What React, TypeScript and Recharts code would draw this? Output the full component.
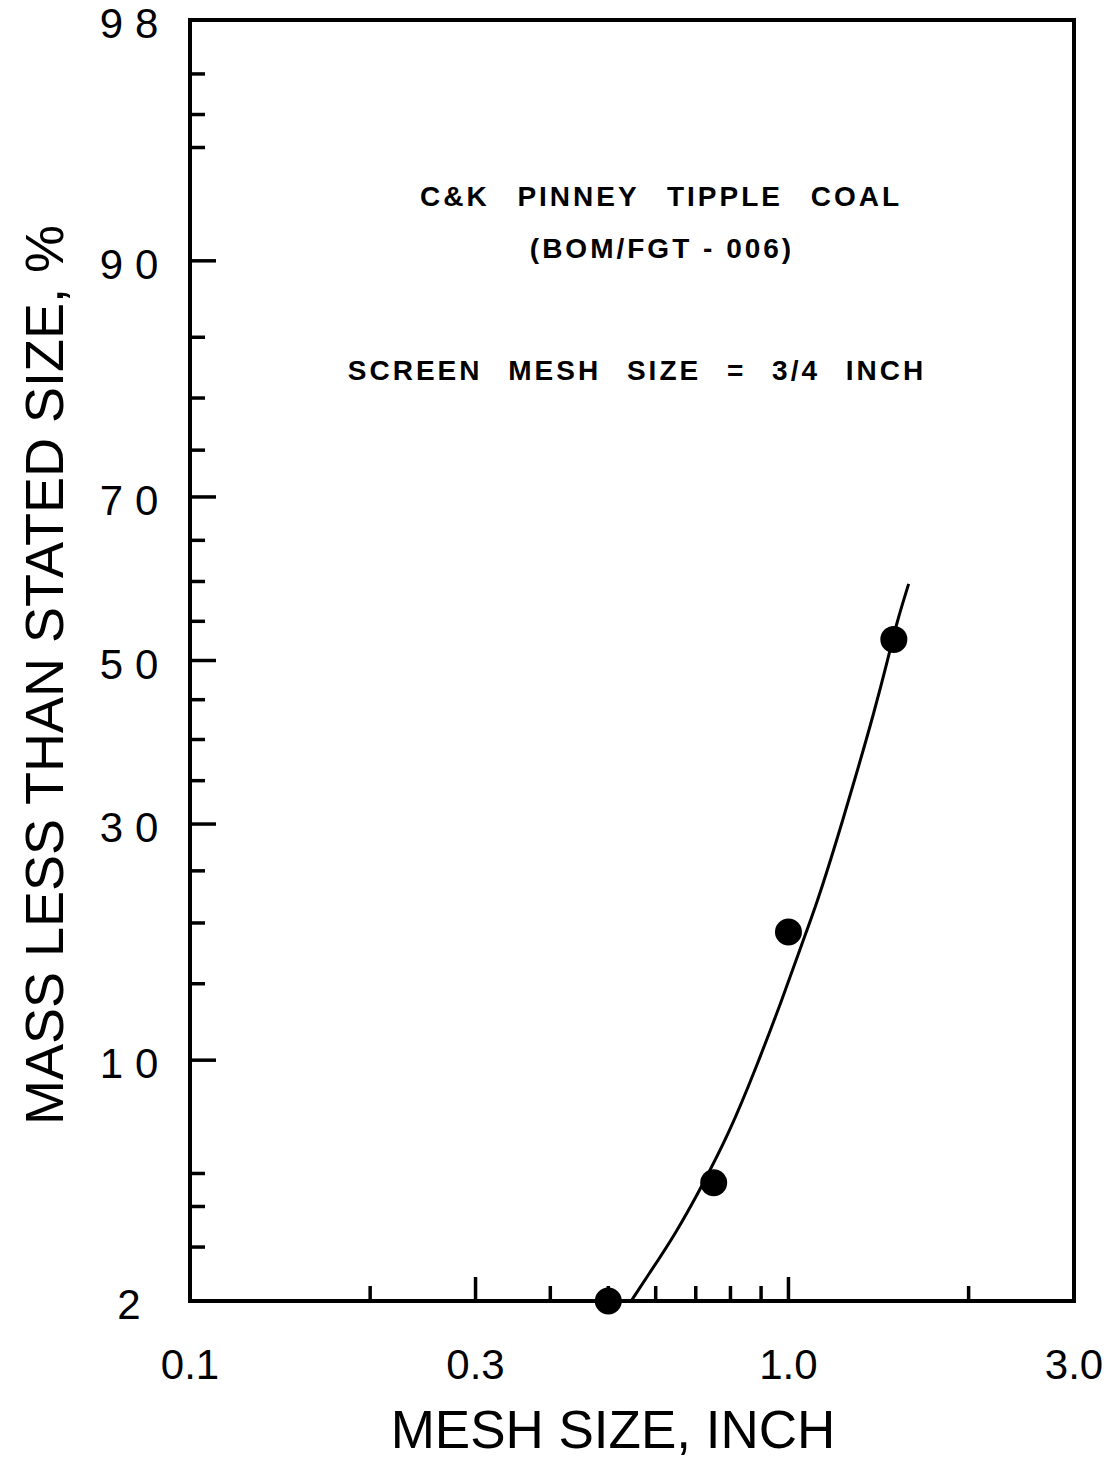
import { ComposedChart, Line, Scatter, XAxis, YAxis } from 'recharts';

// screen test samples
const sampleMesh = [0.5, 0.75, 1.0, 1.5];
const samplePassing = [2.0, 4.7, 19.2, 52.7];

// fitted size distribution curve
const fitMesh = [0.546, 0.583, 0.647, 0.718, 0.797, 0.881, 0.977, 1.055, 1.114, 1.203, 1.3, 1.387, 1.47, 1.516, 1.588];
const fitPassing = [2.0, 2.44, 3.29, 4.62, 6.51, 9.5, 13.9, 18.3, 21.7, 28.1, 35.9, 43.1, 50.5, 54.8, 59.7];

const meshTicks = [0.1, 0.2, 0.3, 0.4, 0.5, 0.6, 0.7, 0.8, 0.9, 1.0, 2.0, 3.0];
const meshLabels = [0.1, 0.3, 1.0, 3.0];
const meshLong = [0.3, 1.0];

const pctTicks = [2, 3, 4, 5, 10, 15, 20, 25, 30, 35, 40, 45, 50, 55, 60, 65, 70, 75, 80, 85, 90, 95, 96, 97, 98];
const pctLabels = [2, 10, 30, 50, 70, 90, 98];

const W = 1117;
const H = 1463;

// inverse normal CDF (Acklam), used for the probability axis
function probit(p: number): number {
  const a = [-3.969683028665376e1, 2.209460984245205e2, -2.759285104469687e2, 1.38357751867269e2, -3.066479806614716e1, 2.506628277459239];
  const b = [-5.447609879822406e1, 1.615858368580409e2, -1.556989798598866e2, 6.680131188771972e1, -1.328068155288572e1];
  const c = [-7.784894002430293e-3, -3.223964580411365e-1, -2.400758277161838, -2.549732539343734, 4.374664141464968, 2.938163982698783];
  const d = [7.784695709041462e-3, 3.224671290700398e-1, 2.445134137142996, 3.754408661907416];
  const pl = 0.02425;
  if (p < pl) {
    const q = Math.sqrt(-2 * Math.log(p));
    return (((((c[0] * q + c[1]) * q + c[2]) * q + c[3]) * q + c[4]) * q + c[5]) / ((((d[0] * q + d[1]) * q + d[2]) * q + d[3]) * q + 1);
  }
  if (p > 1 - pl) {
    const q = Math.sqrt(-2 * Math.log(1 - p));
    return -(((((c[0] * q + c[1]) * q + c[2]) * q + c[3]) * q + c[4]) * q + c[5]) / ((((d[0] * q + d[1]) * q + d[2]) * q + d[3]) * q + 1);
  }
  const q = p - 0.5;
  const r = q * q;
  return ((((((a[0] * r + a[1]) * r + a[2]) * r + a[3]) * r + a[4]) * r + a[5]) * q) / (((((b[0] * r + b[1]) * r + b[2]) * r + b[3]) * r + b[4]) * r + 1);
}

const z = (pct: number) => probit(pct / 100);
const near = (list: number[], v: number) => list.find((t) => Math.abs(t - v) < 1e-6);
const pctOf = (zv: number) => pctTicks.reduce((best, t) => (Math.abs(z(t) - zv) < Math.abs(z(best) - zv) ? t : best), pctTicks[0]);

const samples = sampleMesh.map((x, i) => ({ x, z: z(samplePassing[i]) }));
const fit = fitMesh.map((x, i) => ({ x, z: z(fitPassing[i]) }));

const ink = '#000';
const labelFont = '"Liberation Sans", Arial, sans-serif';

const BottomTick = (props: any) => {
  const { x, y, payload } = props;
  const v = payload.value;
  const len = near(meshLong, v) !== undefined ? 24 : 15;
  const lab = near(meshLabels, v);
  return (
    <g>
      <line x1={x} y1={y} x2={x} y2={y - len} stroke={ink} strokeWidth={3.5} />
      {lab !== undefined && (
        <text x={x} y={y + 78} textAnchor="middle" fontSize={42} fontFamily={labelFont} fill={ink}>
          {lab.toFixed(1)}
        </text>
      )}
    </g>
  );
};

const TopTick = (props: any) => {
  const { x, y, payload } = props;
  const len = near(meshLong, payload.value) !== undefined ? 24 : 15;
  return <line x1={x} y1={y} x2={x} y2={y + len} stroke={ink} strokeWidth={3.5} />;
};

const LeftTick = (props: any) => {
  const { x, y, payload } = props;
  const pct = pctOf(payload.value);
  const labelled = pctLabels.includes(pct);
  const len = labelled ? 26 : 15;
  return (
    <g>
      <line x1={x} y1={y} x2={x + len} y2={y} stroke={ink} strokeWidth={3.5} />
      {labelled && (
        <text x={x - 55} y={y + 18} textAnchor="middle" fontSize={42} letterSpacing={12} fontFamily={labelFont} fill={ink}>
          {pct}
        </text>
      )}
    </g>
  );
};

const RightTick = (props: any) => {
  const { x, y, payload } = props;
  const len = pctLabels.includes(pctOf(payload.value)) ? 26 : 15;
  return <line x1={x} y1={y} x2={x - len} y2={y} stroke={ink} strokeWidth={3.5} />;
};

const Dot = (props: any) => <circle cx={props.cx} cy={props.cy} r={13.5} fill={ink} />;

const frame = { stroke: ink, strokeWidth: 4, strokeLinecap: 'square' as const };
const zDomain = [z(2), z(98)];

export default function App() {
  const noteStyle = { fontFamily: labelFont, fontWeight: 700, fontSize: 28, letterSpacing: 3 };
  return (
    <div style={{ position: 'absolute', left: 0, top: 0, width: W, height: H, background: '#fff' }}>
      <ComposedChart width={W} height={H} margin={{ top: 0, right: 0, bottom: 0, left: 0 }}>
        <XAxis
          xAxisId="m"
          dataKey="x"
          type="number"
          scale="log"
          domain={[0.1, 3]}
          ticks={meshTicks}
          interval={0}
          height={162}
          tickSize={0}
          tickMargin={0}
          axisLine={frame}
          tickLine={false}
          tick={<BottomTick />}
        />
        <XAxis
          xAxisId="top"
          orientation="top"
          type="number"
          scale="log"
          domain={[0.1, 3]}
          ticks={meshTicks}
          interval={0}
          height={20}
          tickSize={0}
          tickMargin={0}
          axisLine={frame}
          tickLine={false}
          tick={<TopTick />}
        />
        <YAxis
          yAxisId="p"
          dataKey="z"
          type="number"
          domain={zDomain}
          ticks={pctTicks.map(z)}
          interval={0}
          width={190}
          tickSize={0}
          tickMargin={0}
          axisLine={frame}
          tickLine={false}
          tick={<LeftTick />}
        />
        <YAxis
          yAxisId="pr"
          orientation="right"
          type="number"
          domain={zDomain}
          ticks={pctTicks.map(z)}
          interval={0}
          width={43}
          tickSize={0}
          tickMargin={0}
          axisLine={frame}
          tickLine={false}
          tick={<RightTick />}
        />
        <Line
          xAxisId="m"
          yAxisId="p"
          data={fit}
          dataKey="z"
          type="basis"
          stroke={ink}
          strokeWidth={3}
          dot={false}
          activeDot={false}
          isAnimationActive={false}
        />
        <Scatter xAxisId="m" yAxisId="p" data={samples} dataKey="z" shape={<Dot />} isAnimationActive={false} />

        <text x={661} y={206} textAnchor="middle" wordSpacing={17} fill={ink} style={noteStyle}>
          C&amp;K PINNEY TIPPLE COAL
        </text>
        <text x={662} y={258} textAnchor="middle" fill={ink} style={noteStyle}>
          (BOM/FGT - 006)
        </text>
        <text x={637} y={380} textAnchor="middle" wordSpacing={15} fill={ink} style={noteStyle}>
          SCREEN MESH SIZE = 3/4 INCH
        </text>

        <text x={613} y={1448} textAnchor="middle" fontSize={53} fontFamily={labelFont} fill={ink}>
          MESH SIZE, INCH
        </text>
        <text
          x={63}
          y={675}
          transform="rotate(-90, 63, 675)"
          textAnchor="middle"
          fontSize={54}
          fontFamily={labelFont}
          fill={ink}
        >
          MASS LESS THAN STATED SIZE, %
        </text>
      </ComposedChart>
    </div>
  );
}
